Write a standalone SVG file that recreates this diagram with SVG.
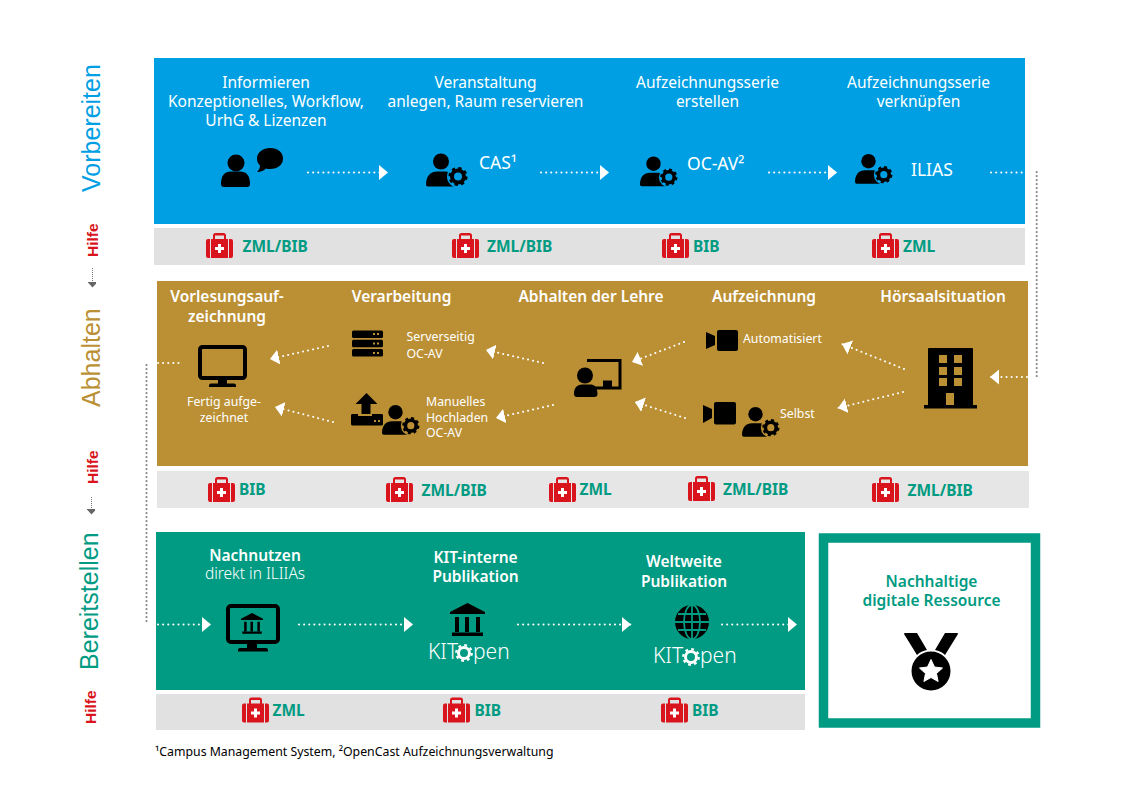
<svg xmlns="http://www.w3.org/2000/svg" xmlns:xlink="http://www.w3.org/1999/xlink" width="1123" height="794" viewBox="0 0 1123 794">
<style>
text{font-family:"Noto Sans","Open Sans","Liberation Sans",sans-serif;fill:#fff}
.h{font-size:15.5px;text-anchor:middle}
.b{font-size:15.5px;text-anchor:middle;font-weight:600}
.s{font-size:12.3px}
.m{font-size:12.3px;text-anchor:middle}
.l{font-size:17.5px}
.help{font-size:15.5px;font-weight:700;fill:#009b82}
.side{font-family:"Liberation Sans",sans-serif;font-size:25px}
.hilfe{font-family:"Liberation Sans",sans-serif;font-size:15.5px;font-weight:700;fill:#d9141c}
.kit{font-size:21px;font-weight:300}
.dot{fill:none;stroke:#fff;stroke-width:2;stroke-linecap:round;stroke-dasharray:.1 5;marker-end:url(#ah)}
.gdot{fill:none;stroke:#8a8a8a;stroke-width:2.2;stroke-linecap:round;stroke-dasharray:.1 3.9}
.sdot{fill:none;stroke:#777;stroke-width:1;stroke-dasharray:1 1;marker-end:url(#gh)}
</style>
<defs>
<marker id="ah" markerUnits="userSpaceOnUse" markerWidth="10" markerHeight="16" refX="9" refY="7.5" orient="auto"><path d="M0 0L9 7.5L0 15Z" fill="#fff"/></marker>
<marker id="gh" markerUnits="userSpaceOnUse" markerWidth="12" markerHeight="8" refX="5.5" refY="3" orient="auto"><path d="M0 -2.5L6 3L0 8.5Z" transform="translate(0,0)" fill="#666"/></marker>
<symbol id="kit" overflow="visible"><path d="M0 8a2 2 0 0 1 2-2h2v19H2a2 2 0 0 1-2-2ZM5 6h2V2.5A2.5 2.5 0 0 1 9.500 0h8A2.500 2.500 0 0 1 20 2.500V6h2v19H5ZM9 6h9V2.500H9ZM23 6h2a2 2 0 0 1 2 2v15a2 2 0 0 1-2 2h-2Z" fill="#d9141c" fill-rule="evenodd"/><path d="M12 11h3v3h3v3h-3v3h-3v-3H9v-3h3Z" fill="#fff"/></symbol>
<symbol id="gear" overflow="visible"><circle r="6" fill="none" stroke="#000" stroke-width="4"/><circle r="8.300" fill="none" stroke="#000" stroke-width="2.600" stroke-dasharray="3.300 3.218"/></symbol>
<symbol id="pg" overflow="visible"><circle cx="15" cy="8" r="8"/><path d="M0 31c0-9 5-13 11-13h8c5 0 8 3 9 6v9H2a2 2 0 0 1-2-2Z"/><circle cx="32" cy="23" r="11" fill="currentColor"/><use xlink:href="#gear" x="32" y="23"/></symbol>
<symbol id="bank" overflow="visible"><path d="M17.500 0L35 9v2H0V9ZM5 14h4v15H5ZM15 14h4v15h-4ZM26 14h4v15h-4ZM2 29.500h31v3.500H2Z"/></symbol>
</defs>

<g id="bands">
<rect x="154" y="58" width="871" height="166" fill="#009fe3"/>
<rect x="154" y="228" width="871" height="37" fill="#e1e1e1"/>
<rect x="157" y="281" width="871" height="185" fill="#bb9034"/>
<rect x="157" y="471" width="872" height="37" fill="#e6e6e6"/>
<rect x="156" y="532" width="649" height="158" fill="#009b82"/>
<rect x="156" y="694" width="649" height="36" fill="#e1e1e1"/>
</g>

<g id="connectors">
<path class="gdot" d="M1036.700 172V380"/>
<path class="gdot" d="M146.500 365V624"/>
<path class="sdot" d="M92.500 268V287"/>
<path class="sdot" d="M91.500 497V514"/>
<path class="dot" d="M308 172.500H388"/>
<path class="dot" d="M541 172.500H609"/>
<path class="dot" d="M769 172.500H837"/>
<path class="dot" style="marker-end:none" d="M991 172.500H1025"/>
<path class="dot" d="M328 346L270 359"/>
<path class="dot" d="M543 363L486 350"/>
<path class="dot" d="M333 422L275 407"/>
<path class="dot" d="M553 405L496 418"/>
<path class="dot" style="marker-end:none" d="M158 363H180"/>
<path class="dot" d="M684 342L632 362"/>
<path class="dot" d="M685 418L635 402"/>
<path class="dot" d="M904 369L842 344"/>
<path class="dot" d="M903 392L838 408"/>
<path class="dot" d="M1027 377H990"/>
<path class="dot" d="M158 624.500H211"/>
<path class="dot" d="M299 624.500H413"/>
<path class="dot" d="M518 624.500H631"/>
<path class="dot" d="M722 624.500H797"/>
</g>

<g id="side-labels">
<text class="side" style="fill:#009fe3" transform="translate(100 192) rotate(-90)">Vorbereiten</text>
<text class="side" style="fill:#bb9034" transform="translate(100 407) rotate(-90)">Abhalten</text>
<text class="side" style="fill:#009b82" transform="translate(98 670) rotate(-90)">Bereitstellen</text>
<text class="hilfe" transform="translate(98 257) rotate(-90)">Hilfe</text>
<text class="hilfe" transform="translate(98 484) rotate(-90)">Hilfe</text>
<text class="hilfe" transform="translate(96 724) rotate(-90)">Hilfe</text>
</g>

<g id="informieren">
<text class="h" x="266" y="88">Informieren</text><text class="h" x="266" y="107">Konzeptionelles, Workflow,</text><text class="h" x="266" y="126">UrhG &amp; Lizenzen</text>
<circle cx="236" cy="163" r="8.500"/><path d="M221 184c0-9 4-12.500 10-12.500h9c6 0 10 3.500 10 12.500a3 3 0 0 1-3 3H224a3 3 0 0 1-3-3Z"/>
<path d="M270 148c8 0 13 4.500 13 10.500S278 169 270 169c-2 0-3 0-4-.5c-2 2-5 3.500-9 3.500c2-2 3-4 3-6.500c-2-2-3-4-3-7c0-6 6-10.500 13-10.500Z"/>
</g>
<g id="veranstaltung">
<text class="h" x="485.500" y="88">Veranstaltung</text><text class="h" x="485.500" y="107">anlegen, Raum reservieren</text>
<use xlink:href="#pg" x="426" y="153.500" style="color:#009fe3"/>
<text class="l" x="479" y="168.500">CAS¹</text>
</g>
<g id="serie-erstellen">
<text class="h" x="707.500" y="88">Aufzeichnungsserie</text><text class="h" x="707.500" y="107">erstellen</text>
<use xlink:href="#pg" transform="translate(640 156.500) scale(.9)" style="color:#009fe3"/>
<text class="l" x="687" y="169.500">OC-AV²</text>
</g>
<g id="serie-verknuepfen">
<text class="h" x="918.500" y="88">Aufzeichnungsserie</text><text class="h" x="918.500" y="107">verknüpfen</text>
<use xlink:href="#pg" transform="translate(855 154) scale(.9)" style="color:#009fe3"/>
<text class="l" x="911" y="176">ILIAS</text>
</g>

<g id="help-1">
<use xlink:href="#kit" x="206" y="233"/><text class="help" x="242.500" y="252">ZML/BIB</text>
<use xlink:href="#kit" x="452" y="233"/><text class="help" x="487" y="252">ZML/BIB</text>
<use xlink:href="#kit" x="662" y="233"/><text class="help" x="693" y="251.500">BIB</text>
<use xlink:href="#kit" x="872" y="233"/><text class="help" x="903" y="251.500">ZML</text>
</g>

<g id="vorlesungsaufzeichnung">
<text class="b" x="227" y="302">Vorlesungsauf-</text><text class="b" x="227" y="321.500">zeichnung</text>
<rect x="200" y="347" width="45" height="31" rx="2.500" fill="none" stroke="#000" stroke-width="4"/>
<path d="M218 380h9v3.500h7a2 2 0 0 1 2 2v1.500H209v-1.500a2 2 0 0 1 2-2h7Z"/>
<text class="m" x="224" y="406">Fertig aufge-</text><text class="m" x="224" y="421.500">zeichnet</text>
</g>
<g id="verarbeitung">
<text class="b" x="401.500" y="302">Verarbeitung</text>
<g id="server">
<rect x="352" y="330.500" width="31" height="7.500" rx="1.500"/><rect x="352" y="339.700" width="31" height="7.500" rx="1.500"/><rect x="352" y="349" width="31" height="7.500" rx="1.500"/>
<path d="M373 333h2v2h-2ZM377 333h2v2h-2ZM373 342.500h2v2h-2ZM377 342.500h2v2h-2ZM373 352h2v2h-2ZM377 352h2v2h-2Z" fill="#bb9034"/>
</g>
<text class="s" x="406.500" y="341">Serverseitig</text><text class="s" x="406.500" y="358">OC-AV</text>
<path d="M351 417a2 2 0 0 1 2-2h6v-6h-3v-0h-3v6h30v10h-32Z" fill="none"/>
<path d="M352 414h6v2h14v-2h10a1.500 1.500 0 0 1 1 1.500V424a1.500 1.500 0 0 1-1.500 1.500h-29A1.500 1.500 0 0 1 351 424v-8.500a1.500 1.500 0 0 1 1-1.500Z"/>
<path d="M366.500 393L377.500 404H370.500V414H361.500V404H355.500Z"/>
<path d="M374 420h2v2h-2ZM378 420h2v2h-2Z" fill="#bb9034"/>
<use xlink:href="#pg" transform="translate(382 405) scale(.9)" style="color:#bb9034"/>
<text class="s" x="426" y="406">Manuelles</text><text class="s" x="426" y="421.500">Hochladen</text><text class="s" x="426" y="437">OC-AV</text>
</g>
<g id="abhalten-lehre">
<text class="b" x="591" y="302">Abhalten der Lehre</text>
<path d="M587 360.500h33v27.500h-28" fill="none" stroke="#000" stroke-width="3"/>
<rect x="603" y="380.500" width="9" height="8"/>
<circle cx="585" cy="375.500" r="8"/>
<rect x="589" y="369" width="0" height="0"/>
<path d="M574 394c0-6 3-9.500 8-9.500h9c4 0 6.500 3.500 6.500 9.500a3 3 0 0 1-3 3H577a3 3 0 0 1-3-3Z"/>
</g>
<g id="aufzeichnung">
<text class="b" x="764" y="301.500">Aufzeichnung</text>
<rect x="717" y="330" width="21" height="21" rx="2"/><path d="M706 332L715 336V345L706 349Z"/>
<text class="s" x="743" y="342.500">Automatisiert</text>
<rect x="714" y="402" width="22" height="22.500" rx="2"/><path d="M703 405L712 409V418L703 423Z"/>
<use xlink:href="#pg" transform="translate(742 407) scale(.9)" style="color:#bb9034"/>
<text class="s" x="780" y="418">Selbst</text>
</g>
<g id="hoersaal">
<text class="b" x="943" y="302">Hörsaalsituation</text>
<path d="M928 349a1 1 0 0 1 1-1h43a1 1 0 0 1 1 1v56h4v3.500h-53V405h4Z"/>
<path d="M939 355h8v8h-8ZM954 355h8v8h-8ZM939 367h8v8h-8ZM954 367h8v8h-8ZM939 378h8v8h-8ZM954 378h8v8h-8ZM946 393h8v12h-8Z" fill="#bb9034"/>
</g>

<g id="help-2">
<use xlink:href="#kit" x="208" y="477"/><text class="help" x="239" y="495">BIB</text>
<use xlink:href="#kit" x="386" y="477"/><text class="help" x="421.500" y="495.500">ZML/BIB</text>
<use xlink:href="#kit" x="549" y="477"/><text class="help" x="579.500" y="495">ZML</text>
<use xlink:href="#kit" x="688" y="476"/><text class="help" x="723" y="494.500">ZML/BIB</text>
<use xlink:href="#kit" x="872" y="477"/><text class="help" x="907.500" y="495.500">ZML/BIB</text>
</g>

<g id="nachnutzen">
<text class="b" x="255" y="560.500">Nachnutzen</text><text class="h" x="255" y="579" style="font-weight:300">direkt in ILIIAs</text>
<rect x="228" y="606" width="50" height="36" rx="3" fill="none" stroke="#000" stroke-width="4"/>
<path d="M247 644h10v4h9a2 2 0 0 1 2 2v1.500H238V650a2 2 0 0 1 2-2h7Z"/>
<use xlink:href="#bank" transform="translate(241 613) scale(.63)"/>
</g>
<g id="kit-intern">
<text class="b" x="475.500" y="562.500">KIT-interne</text><text class="b" x="475.500" y="581.500">Publikation</text>
<use xlink:href="#bank" x="450" y="603"/>
<text class="kit" x="428" y="658.500">KIT</text>
<g transform="translate(464 653)" id="gear-w1"><circle r="5.500" fill="none" stroke="#fff" stroke-width="3"/><circle r="7.800" fill="none" stroke="#fff" stroke-width="2.200" stroke-dasharray="2.800 3.327"/></g>
<text class="kit" x="473" y="658.500">pen</text>
</g>
<g id="weltweit">
<text class="b" x="684" y="567">Weltweite</text><text class="b" x="684" y="586.500">Publikation</text>
<circle cx="692" cy="622" r="17"/>
<g fill="none" stroke="#009b82" stroke-width="1.800"><ellipse cx="692" cy="622" rx="8" ry="17"/><path d="M692 605v34M675 622h34M678 614h28M678 630h28"/></g>
<text class="kit" x="653" y="662.500">KIT</text>
<g transform="translate(691 657)" id="gear-w2"><circle r="5.500" fill="none" stroke="#fff" stroke-width="3"/><circle r="7.800" fill="none" stroke="#fff" stroke-width="2.200" stroke-dasharray="2.800 3.327"/></g>
<text class="kit" x="700" y="662.500">pen</text>
</g>

<g id="help-3">
<use xlink:href="#kit" x="242" y="697.500"/><text class="help" x="272.500" y="716">ZML</text>
<use xlink:href="#kit" x="443" y="697.500"/><text class="help" x="474.500" y="716">BIB</text>
<use xlink:href="#kit" x="661" y="697.500"/><text class="help" x="692" y="716">BIB</text>
</g>

<g id="ressource">
<rect x="823.500" y="538" width="212" height="185" fill="#fff" stroke="#009b82" stroke-width="9.500"/>
<text class="b" x="931.500" y="586.500" style="fill:#009b82">Nachhaltige</text><text class="b" x="931.500" y="606" style="fill:#009b82">digitale Ressource</text>
<path d="M904 634a1 1 0 0 1 1-1h12l10 17c-4 1-7 2-10 5ZM958 634a1 1 0 0 0-1-1h-12l-10 17c4 1 7 2 10 5Z"/>
<circle cx="931" cy="671" r="19.500"/>
<path d="M931 659.500l3.500 7.500 8 1-6 5.500 1.600 8-7.100-4-7.100 4 1.600-8-6-5.500 8-1Z" fill="#fff" stroke="#fff" stroke-linejoin="round"/>
</g>

<text id="footnote" x="155" y="755.500" style="fill:#000;font-size:12.300px">¹Campus Management System, ²OpenCast Aufzeichnungsverwaltung</text>
</svg>
